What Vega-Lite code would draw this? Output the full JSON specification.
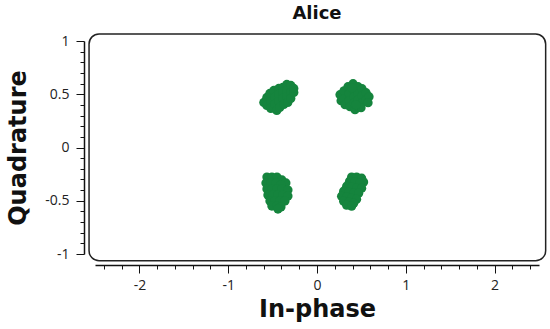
{
  "$schema": "https://vega.github.io/schema/vega-lite/v6.json",
  "width": 444,
  "height": 213,
  "autosize": {"type": "none"},
  "padding": {"left": 95, "top": 41, "right": 11, "bottom": 75},
  "background": "white",
  "title": {"text": "Alice", "fontSize": 18, "font": "DejaVu Sans", "fontWeight": "bold", "color": "#111", "anchor": "middle", "offset": 10},
  "config": {"view": {"stroke": null}},
  "resolve": {"axis": {"x": "independent", "y": "independent"}},
  "layer": [
    {
      "data": {"values": [{}]},
      "mark": {"type": "rect", "filled": false, "stroke": "#222", "strokeWidth": 1.5, "cornerRadius": 10},
      "encoding": {
        "x": {"datum": -2.567, "type": "quantitative", "scale": {"domain": [-2.5, 2.5]}, "axis": null},
        "x2": {"datum": 2.575},
        "y": {"datum": -1.063, "type": "quantitative", "scale": {"domain": [-1, 1]}, "axis": null},
        "y2": {"datum": 1.066}
      }
    },
    {
      "data": {"values": [
        {"I": -0.599, "Q": 0.423}, {"I": -0.565, "Q": 0.470}, {"I": -0.565, "Q": 0.395}, {"I": -0.531, "Q": 0.508},
        {"I": -0.520, "Q": 0.432}, {"I": -0.520, "Q": 0.367}, {"I": -0.486, "Q": 0.536}, {"I": -0.475, "Q": 0.470},
        {"I": -0.475, "Q": 0.404}, {"I": -0.453, "Q": 0.348}, {"I": -0.430, "Q": 0.555}, {"I": -0.430, "Q": 0.498},
        {"I": -0.430, "Q": 0.432}, {"I": -0.419, "Q": 0.376}, {"I": -0.385, "Q": 0.564}, {"I": -0.385, "Q": 0.517},
        {"I": -0.385, "Q": 0.461}, {"I": -0.374, "Q": 0.404}, {"I": -0.340, "Q": 0.592}, {"I": -0.340, "Q": 0.536},
        {"I": -0.340, "Q": 0.479}, {"I": -0.329, "Q": 0.423}, {"I": -0.295, "Q": 0.583}, {"I": -0.295, "Q": 0.517},
        {"I": -0.295, "Q": 0.461}, {"I": -0.261, "Q": 0.517}, {"I": -0.261, "Q": 0.555},
        {"I": 0.259, "Q": 0.496}, {"I": 0.271, "Q": 0.439}, {"I": 0.304, "Q": 0.533}, {"I": 0.304, "Q": 0.458},
        {"I": 0.316, "Q": 0.402}, {"I": 0.349, "Q": 0.571}, {"I": 0.361, "Q": 0.505}, {"I": 0.361, "Q": 0.439},
        {"I": 0.372, "Q": 0.383}, {"I": 0.406, "Q": 0.599}, {"I": 0.417, "Q": 0.533}, {"I": 0.417, "Q": 0.477},
        {"I": 0.417, "Q": 0.421}, {"I": 0.428, "Q": 0.355}, {"I": 0.462, "Q": 0.571}, {"I": 0.462, "Q": 0.505},
        {"I": 0.462, "Q": 0.449}, {"I": 0.473, "Q": 0.383}, {"I": 0.507, "Q": 0.552}, {"I": 0.507, "Q": 0.486},
        {"I": 0.507, "Q": 0.421}, {"I": 0.496, "Q": 0.374}, {"I": 0.552, "Q": 0.515}, {"I": 0.552, "Q": 0.449},
        {"I": 0.586, "Q": 0.477}, {"I": 0.575, "Q": 0.421}, {"I": 0.394, "Q": 0.562}, {"I": 0.440, "Q": 0.402},
        {"I": -0.564, "Q": -0.277}, {"I": -0.508, "Q": -0.277}, {"I": -0.451, "Q": -0.277}, {"I": -0.395, "Q": -0.305},
        {"I": -0.350, "Q": -0.333}, {"I": -0.575, "Q": -0.333}, {"I": -0.519, "Q": -0.333}, {"I": -0.463, "Q": -0.333},
        {"I": -0.406, "Q": -0.352}, {"I": -0.564, "Q": -0.390}, {"I": -0.508, "Q": -0.390}, {"I": -0.451, "Q": -0.390},
        {"I": -0.395, "Q": -0.390}, {"I": -0.327, "Q": -0.399}, {"I": -0.553, "Q": -0.446}, {"I": -0.496, "Q": -0.446},
        {"I": -0.440, "Q": -0.446}, {"I": -0.384, "Q": -0.446}, {"I": -0.327, "Q": -0.456}, {"I": -0.530, "Q": -0.503},
        {"I": -0.474, "Q": -0.503}, {"I": -0.417, "Q": -0.503}, {"I": -0.361, "Q": -0.503}, {"I": -0.508, "Q": -0.550},
        {"I": -0.451, "Q": -0.550}, {"I": -0.406, "Q": -0.559}, {"I": -0.440, "Q": -0.578},
        {"I": 0.390, "Q": -0.278}, {"I": 0.446, "Q": -0.278}, {"I": 0.503, "Q": -0.288}, {"I": 0.525, "Q": -0.325},
        {"I": 0.367, "Q": -0.316}, {"I": 0.424, "Q": -0.325}, {"I": 0.480, "Q": -0.335}, {"I": 0.334, "Q": -0.363},
        {"I": 0.390, "Q": -0.372}, {"I": 0.446, "Q": -0.382}, {"I": 0.503, "Q": -0.382}, {"I": 0.300, "Q": -0.410},
        {"I": 0.356, "Q": -0.419}, {"I": 0.413, "Q": -0.429}, {"I": 0.469, "Q": -0.429}, {"I": 0.277, "Q": -0.457},
        {"I": 0.334, "Q": -0.466}, {"I": 0.390, "Q": -0.476}, {"I": 0.446, "Q": -0.485}, {"I": 0.300, "Q": -0.504},
        {"I": 0.356, "Q": -0.513}, {"I": 0.413, "Q": -0.523}, {"I": 0.334, "Q": -0.542}, {"I": 0.390, "Q": -0.551}
      ]},
      "mark": {"type": "circle", "size": 85, "opacity": 1, "color": "#15843d"},
      "encoding": {
        "x": {
          "field": "I", "type": "quantitative",
          "scale": {"domain": [-2.5, 2.5]},
          "axis": {
            "orient": "bottom",
            "title": "In-phase",
            "values": [-2.4, -2.2, -2, -1.8, -1.6, -1.4, -1.2, -1, -0.8, -0.6, -0.4, -0.2, 0, 0.2, 0.4, 0.6, 0.8, 1, 1.2, 1.4, 1.6, 1.8, 2, 2.2, 2.4],
            "offset": 11,
            "grid": false,
            "tickSize": {"condition": {"test": "abs(datum.value - round(datum.value)) < 0.001", "value": 8}, "value": 4},
            "labelExpr": "abs(datum.value - round(datum.value)) < 0.001 ? (datum.value < 0 ? '-' + format(-datum.value, '~g') : format(datum.value, '~g')) : ''",
            "labelOverlap": false,
            "labelFlush": false,
            "domainColor": "#111",
            "domainWidth": 1.5,
            "tickColor": "#111",
            "tickWidth": 1,
            "labelFont": "Open Sans",
            "labelFontSize": 14,
            "labelColor": "#222",
            "labelPadding": 5,
            "titleFont": "DejaVu Sans",
            "titleFontSize": 24,
            "titleFontWeight": "bold",
            "titleColor": "#111",
            "titlePadding": 5
          }
        },
        "y": {
          "field": "Q", "type": "quantitative",
          "scale": {"domain": [-1, 1]},
          "axis": {
            "orient": "left",
            "title": "Quadrature",
            "values": [-1, -0.9, -0.8, -0.7, -0.6, -0.5, -0.4, -0.3, -0.2, -0.1, 0, 0.1, 0.2, 0.3, 0.4, 0.5, 0.6, 0.7, 0.8, 0.9, 1],
            "offset": 11,
            "grid": false,
            "tickSize": {"condition": {"test": "abs(datum.value * 2 - round(datum.value * 2)) < 0.001", "value": 8}, "value": 4},
            "labelExpr": "abs(datum.value * 2 - round(datum.value * 2)) < 0.001 ? (datum.value < 0 ? '-' + format(-datum.value, '~g') : format(datum.value, '~g')) : ''",
            "labelOverlap": false,
            "labelFlush": false,
            "domainColor": "#111",
            "domainWidth": 1.5,
            "tickColor": "#111",
            "tickWidth": 1,
            "labelFont": "Open Sans",
            "labelFontSize": 14,
            "labelColor": "#222",
            "labelPadding": 7,
            "titleFont": "DejaVu Sans",
            "titleFontSize": 24,
            "titleFontWeight": "bold",
            "titleColor": "#111",
            "titlePadding": 14
          }
        }
      }
    }
  ]
}
